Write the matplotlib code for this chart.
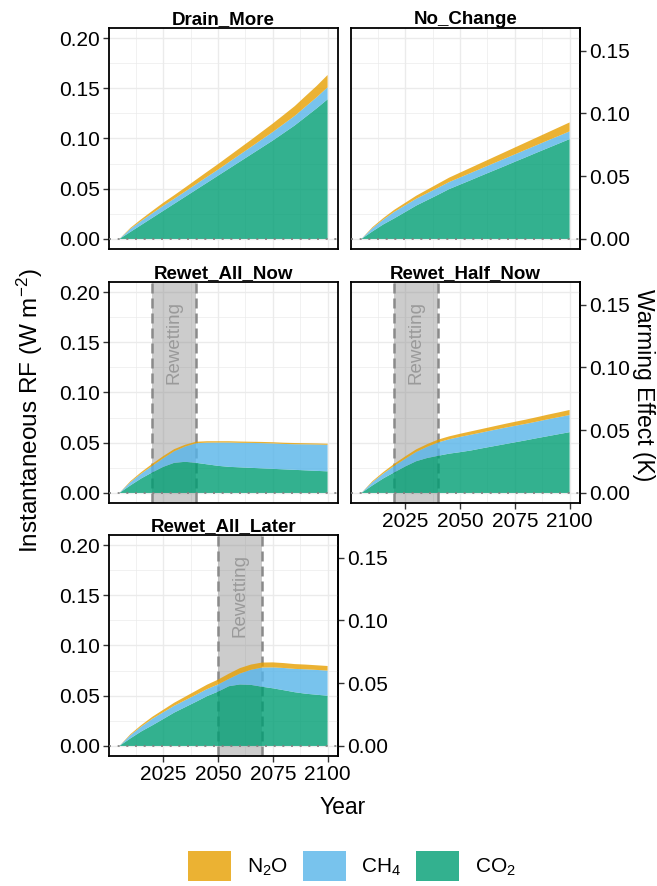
import matplotlib
matplotlib.use("Agg")
import matplotlib.pyplot as plt
from matplotlib.patches import Patch
from matplotlib.ticker import FixedLocator, FormatStrFormatter

plt.rcParams["font.family"] = ["Liberation Sans", "DejaVu Sans"]
plt.rcParams["mathtext.default"] = "regular"

# ---------------------------------------------------------------------------
# Data (instantaneous RF, W m-2, per gas; stacked CO2 / CH4 / N2O)
# ---------------------------------------------------------------------------
years = [2005, 2010, 2015, 2020, 2025, 2030, 2035, 2040, 2045, 2050,
         2055, 2060, 2065, 2070, 2075, 2080, 2085, 2090, 2095, 2100]

drain_more_co2 = [0, 0.007, 0.014, 0.021, 0.028, 0.035, 0.042, 0.049, 0.056, 0.063,
                  0.070, 0.077, 0.084, 0.091, 0.098, 0.1055, 0.113, 0.1215, 0.130, 0.139]
drain_more_ch4 = [0, 0.003, 0.004, 0.0045, 0.005, 0.005, 0.0052, 0.0055, 0.0058, 0.006,
                  0.0065, 0.007, 0.0075, 0.008, 0.0085, 0.009, 0.0095, 0.0103, 0.011, 0.012]
drain_more_n2o = [0, 0.001, 0.0017, 0.0024, 0.003, 0.0035, 0.004, 0.0045, 0.005, 0.0055,
                  0.006, 0.0065, 0.007, 0.0077, 0.0084, 0.009, 0.0097, 0.0105, 0.0113, 0.0122]

no_change_co2 = [0, 0.0075, 0.0145, 0.0205, 0.0268, 0.0332, 0.0386, 0.044, 0.0496, 0.0541,
                 0.0586, 0.0632, 0.0677, 0.0722, 0.0768, 0.0813, 0.0859, 0.0904, 0.0949, 0.0994]
no_change_ch4 = [0, 0.0032, 0.0048, 0.0065, 0.0067, 0.0068, 0.0069, 0.007, 0.007, 0.0071,
                 0.0072, 0.0072, 0.0073, 0.0074, 0.0074, 0.0075, 0.0075, 0.0076, 0.0076, 0.0077]
no_change_n2o = [0, 0.001, 0.0015, 0.002, 0.0025, 0.003, 0.0035, 0.004, 0.0044, 0.0048,
                 0.0052, 0.0056, 0.006, 0.0064, 0.0068, 0.0072, 0.0076, 0.008, 0.0085, 0.0089]

rewet_all_now_co2 = [0, 0.0075, 0.0145, 0.0205, 0.026, 0.030, 0.031, 0.030, 0.0285, 0.027,
                     0.026, 0.0255, 0.025, 0.0245, 0.024, 0.0235, 0.023, 0.0225, 0.022, 0.0215]
rewet_all_now_ch4 = [0, 0.0032, 0.0048, 0.0065, 0.0085, 0.0115, 0.0152, 0.0195, 0.0216, 0.0232,
                     0.0242, 0.0244, 0.0248, 0.0251, 0.0253, 0.0253, 0.0255, 0.0259, 0.0262, 0.0264]
rewet_all_now_n2o = [0, 0.001, 0.0015, 0.002, 0.0022, 0.0021, 0.0018, 0.0015, 0.0014, 0.0013,
                     0.0013, 0.0013, 0.0012, 0.0012, 0.0012, 0.0012, 0.0012, 0.0011, 0.0011, 0.0011]

rewet_half_now_co2 = [0, 0.0075, 0.0145, 0.0205, 0.0264, 0.0316, 0.0348, 0.037, 0.0391, 0.0406,
                      0.0423, 0.0444, 0.0464, 0.0484, 0.0504, 0.0524, 0.0545, 0.0565, 0.0585, 0.0605]
rewet_half_now_ch4 = [0, 0.0032, 0.0048, 0.0065, 0.0076, 0.0092, 0.0111, 0.0133, 0.0143, 0.0152,
                      0.0157, 0.0158, 0.0161, 0.0163, 0.0164, 0.0164, 0.0165, 0.0168, 0.0169, 0.0171]
rewet_half_now_n2o = [0, 0.001, 0.0015, 0.002, 0.0024, 0.0026, 0.0027, 0.0028, 0.0029, 0.0031,
                      0.0033, 0.0035, 0.0036, 0.0038, 0.004, 0.0042, 0.0044, 0.0046, 0.0048, 0.005]

rewet_all_later_co2 = [0, 0.0075, 0.0145, 0.0205, 0.0268, 0.0332, 0.0386, 0.044, 0.0496, 0.0541,
                       0.0595, 0.0612, 0.0608, 0.059, 0.0574, 0.0555, 0.0535, 0.052, 0.051, 0.050]
rewet_all_later_ch4 = [0, 0.0032, 0.0048, 0.0065, 0.0067, 0.0068, 0.0069, 0.007, 0.007, 0.0071,
                       0.0073, 0.0109, 0.015, 0.019, 0.0208, 0.0221, 0.0232, 0.0243, 0.0247, 0.025]
rewet_all_later_n2o = [0, 0.001, 0.0015, 0.002, 0.0025, 0.003, 0.0035, 0.004, 0.0044, 0.0048,
                       0.0052, 0.0054, 0.0052, 0.005, 0.005, 0.0049, 0.0048, 0.0047, 0.0046, 0.0046]

scenarios = ["Drain_More", "No_Change", "Rewet_All_Now", "Rewet_Half_Now", "Rewet_All_Later"]
rewet_periods = {"Rewet_All_Now": (2020, 2040), "Rewet_Half_Now": (2020, 2040),
                 "Rewet_All_Later": (2050, 2070)}
gases = ["N$_2$O", "CH$_4$", "CO$_2$"]
gas_colors = {"CO2": "#009E73", "CH4": "#56B4E9", "N2O": "#E69F00"}
K_PER_RF = 0.8  # warming effect scale (K per W m-2)

series = {
    "Drain_More": (drain_more_co2, drain_more_ch4, drain_more_n2o),
    "No_Change": (no_change_co2, no_change_ch4, no_change_n2o),
    "Rewet_All_Now": (rewet_all_now_co2, rewet_all_now_ch4, rewet_all_now_n2o),
    "Rewet_Half_Now": (rewet_half_now_co2, rewet_half_now_ch4, rewet_half_now_n2o),
    "Rewet_All_Later": (rewet_all_later_co2, rewet_all_later_ch4, rewet_all_later_n2o),
}

# ---------------------------------------------------------------------------
# Layout (pixel boxes of the facet panels)
# ---------------------------------------------------------------------------
W, H = 657, 886
COL_X = [109, 351]
ROW_Y = [28, 282, 535]
PW, PH = 229, 221

fig = plt.figure(figsize=(W / 100, H / 100), dpi=100)


def panel_axes(col, row):
    x0, y0 = COL_X[col], ROW_Y[row]
    return fig.add_axes([x0 / W, 1 - (y0 + PH) / H, PW / W, PH / H])


layout = {
    # name: (col, row, left axis, right axis, x axis)
    "Drain_More": (0, 0, True, False, False),
    "No_Change": (1, 0, False, True, False),
    "Rewet_All_Now": (0, 1, True, False, False),
    "Rewet_Half_Now": (1, 1, False, True, True),
    "Rewet_All_Later": (0, 2, True, True, True),
}

for name in scenarios:
    col, row, show_left, show_right, show_x = layout[name]
    ax = panel_axes(col, row)
    co2, ch4, n2o = series[name]

    if name in rewet_periods:
        a, b = rewet_periods[name]
        ax.axvspan(a, b, color="#808080", alpha=0.4, lw=0, zorder=1)
        for xv in (a, b):
            ax.axvline(xv, color="#8a8a8a", lw=1.8, ls=(0, (4, 2)), zorder=1.5)
        ax.text((a + b) / 2, 0.15, "Rewetting", rotation=90, color="#9a9a9a",
                fontsize=13.5, ha="center", va="center", zorder=1.6)

    ax.stackplot(years, co2, ch4, n2o,
                 colors=[gas_colors["CO2"], gas_colors["CH4"], gas_colors["N2O"]],
                 alpha=0.8, lw=0, zorder=2)
    ax.axhline(0, color="#7f7f7f", lw=1.2, ls=(0, (1.2, 4)), zorder=4)

    ax.set_xlim(2000.25, 2104.75)
    ax.set_ylim(-0.01, 0.21)
    ax.xaxis.set_major_locator(FixedLocator([2025, 2050, 2075, 2100]))
    ax.xaxis.set_minor_locator(FixedLocator([2012.5, 2037.5, 2062.5, 2087.5]))
    ax.yaxis.set_major_locator(FixedLocator([0, 0.05, 0.10, 0.15, 0.20]))
    ax.yaxis.set_minor_locator(FixedLocator([0.025, 0.075, 0.125, 0.175]))
    ax.yaxis.set_major_formatter(FormatStrFormatter("%.2f"))
    ax.grid(which="major", color="#EBEBEB", lw=1.0)
    ax.grid(which="minor", color="#EBEBEB", lw=0.5)
    ax.set_axisbelow(True)
    for sp in ax.spines.values():
        sp.set_color("black")
        sp.set_linewidth(1.3)
    ax.tick_params(which="major", length=4.5, width=1, color="#333333",
                   labelsize=15, pad=2, labelcolor="black")
    ax.tick_params(which="minor", length=0)
    ax.tick_params(left=show_left, labelleft=show_left,
                   bottom=show_x, labelbottom=show_x)

    if show_right:
        sec = ax.secondary_yaxis("right", functions=(lambda v: v * K_PER_RF,
                                                     lambda v: v / K_PER_RF))
        sec.set_yticks([0, 0.05, 0.10, 0.15])
        sec.yaxis.set_major_formatter(FormatStrFormatter("%.2f"))
        sec.tick_params(length=4.5, width=1, color="#333333", labelsize=15, pad=2)
        sec.spines["right"].set_linewidth(1.3)

    ax.set_title(name, fontsize=13.5, fontweight="bold", pad=3)

fig.text(30 / W, 1 - 411 / H, "Instantaneous RF (W m$^{-2}$)", rotation=90,
         ha="center", va="center", fontsize=17.5)
fig.text(643 / W, 1 - 385 / H, "Warming Effect (K)", rotation=270,
         ha="center", va="center", fontsize=16.5)
fig.text(343 / W, 1 - 807 / H, "Year", ha="center", va="center", fontsize=16.5)

handles = [Patch(facecolor=gas_colors[g], alpha=0.8, edgecolor="none")
           for g in ["N2O", "CH4", "CO2"]]
fig.legend(handles, gases, loc="center", bbox_to_anchor=(352 / W, 1 - 866 / H),
           ncol=3, frameon=False, fontsize=15, handlelength=2.07, handleheight=1.83,
           handletextpad=0.75, columnspacing=0.7)

fig.savefig("out.png", dpi=100)
